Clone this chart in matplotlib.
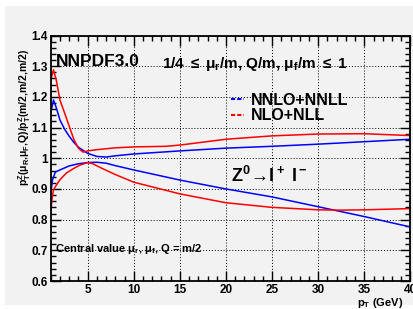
import numpy as np
import matplotlib
matplotlib.use('agg')
import matplotlib.pyplot as plt
from matplotlib.lines import Line2D
from matplotlib.patches import Rectangle
from matplotlib.ticker import MultipleLocator, FixedLocator

plt.rcParams['font.family'] = ['Liberation Sans', 'DejaVu Sans']
plt.rcParams['font.weight'] = 'bold'
plt.rcParams['mathtext.fontset'] = 'custom'
plt.rcParams['mathtext.rm'] = 'Liberation Sans:bold'
plt.rcParams['mathtext.bf'] = 'Liberation Sans:bold'
plt.rcParams['mathtext.it'] = 'Liberation Sans:bold'
plt.rcParams['mathtext.default'] = 'rm'

## data
# NNLO+NNLL band edges
x_nnlo_up = [1, 1.3, 1.6, 2, 2.5, 3, 3.5, 4, 5, 6, 7, 8, 10, 15, 20, 25, 30, 35, 40]
y_nnlo_up = [1.147, 1.19, 1.165, 1.125, 1.095, 1.072, 1.052, 1.036, 1.016, 1.006, 1.004, 1.008,
             1.014, 1.024, 1.033, 1.039, 1.046, 1.054, 1.062]
x_nnlo_lo = [1, 1.2, 1.5, 2, 3, 4, 5, 6, 7, 8, 10, 15, 20, 25, 30, 35, 40]
y_nnlo_lo = [0.886, 0.93, 0.955, 0.962, 0.975, 0.982, 0.986, 0.987, 0.984, 0.976, 0.962,
             0.929, 0.9, 0.874, 0.842, 0.81, 0.776]
# NLO+NLL band edges
x_nlo_up = [1, 1.3, 1.6, 2, 2.5, 3, 3.5, 4, 4.5, 5, 6, 8, 10, 13.5, 15, 20, 25, 30, 35, 40]
y_nlo_up = [1.255, 1.288, 1.255, 1.19, 1.148, 1.105, 1.062, 1.033, 1.02, 1.024, 1.028, 1.034,
            1.037, 1.039, 1.043, 1.062, 1.073, 1.079, 1.080, 1.074]
x_nlo_lo = [1, 1.15, 1.3, 1.6, 2, 2.7, 3.5, 4.2, 5, 5.5, 6.5, 8, 10, 15, 20, 25, 30, 32.5, 35, 40]
y_nlo_lo = [0.821, 0.87, 0.897, 0.912, 0.93, 0.952, 0.967, 0.978, 0.986, 0.983, 0.968, 0.947,
            0.922, 0.884, 0.855, 0.84, 0.832, 0.831, 0.832, 0.836]

x_ticks = [5, 10, 15, 20, 25, 30, 35, 40]
y_ticks = [0.6, 0.7, 0.8, 0.9, 1.0, 1.1, 1.2, 1.3, 1.4]
y_ticklabels = ['0.6', '0.7', '0.8', '0.9', '1', '1.1', '1.2', '1.3', '1.4']

fig = plt.figure(figsize=(4.14, 3.09), dpi=100)
fig.patch.set_facecolor('white')
# grey canvas
fig.patches.append(Rectangle((5 / 414, 1 - 305 / 309), 1.0, (305 - 6) / 309,
                             transform=fig.transFigure, facecolor='#f2f2f2',
                             edgecolor='none', zorder=-10))

ax = fig.add_axes([0.1225, 0.0906, 0.869, 0.7944])
ax.set_facecolor('#f2f2f2')

ax.plot(x_nnlo_up, y_nnlo_up, color='#0000ff', lw=1.1)
ax.plot(x_nnlo_lo, y_nnlo_lo, color='#0000ff', lw=1.1)
ax.plot(x_nlo_up, y_nlo_up, color='#ff0000', lw=1.1)
ax.plot(x_nlo_lo, y_nlo_lo, color='#ff0000', lw=1.1)

ax.set_xlim(1, 40)
ax.set_ylim(0.6, 1.4)
ax.xaxis.set_major_locator(FixedLocator(x_ticks))
ax.xaxis.set_minor_locator(MultipleLocator(1))
ax.set_yticks(y_ticks)
ax.set_yticklabels(y_ticklabels)
ax.yaxis.set_minor_locator(MultipleLocator(0.02))
ax.tick_params(which='both', direction='in', top=True, right=True, width=1.0,
               labelsize=8.5, pad=2)
ax.tick_params(which='major', length=7)
ax.tick_params(which='minor', length=3.5)
for s in ax.spines.values():
    s.set_linewidth(1.3)
ax.grid(True, which='major', color='black', ls=(0, (1, 2)), lw=0.7)

ax.set_ylabel(r'p$_T^Z$($\mu_R$,$\mu_F$,Q)/p$_T^Z$(m/2,m/2,m/2)', fontsize=7.5,
              fontweight='bold')
ax.yaxis.set_label_coords(-0.05, 0.665)
ax.set_xlabel(r'p$_T$ (GeV)', fontsize=8, fontweight='bold', ha='right')
ax.xaxis.set_label_coords(0.98, -0.062)

ax.text(0.013, 0.893, 'NNPDF3.0', transform=ax.transAxes, fontsize=12.5,
        fontweight='bold', va='center')
ax.text(0.31, 0.885, r'1/4 $\leq$ $\mu_r$/m, Q/m, $\mu_f$/m $\leq$ 1', transform=ax.transAxes,
        fontsize=11, fontweight='bold', va='center')
ax.text(0.5, 0.43, r'Z$^0\!\rightarrow\!$l$^+$ l$^-$', transform=ax.transAxes,
        fontsize=13, fontweight='bold', va='center')
ax.text(0.013, 0.13, r'Central value $\mu_r$, $\mu_f$, Q = m/2', transform=ax.transAxes,
        fontsize=8, fontweight='bold', va='center')

handles = [Line2D([], [], color='#0000ff', lw=1.5, ls=(0, (2, 1))),
           Line2D([], [], color='#ff0000', lw=1.5, ls=(0, (2, 1)))]
ax.legend(handles, ['NNLO+NNLL', 'NLO+NLL'], loc='upper left', bbox_to_anchor=(0.48, 0.8),
          frameon=False, handlelength=0.8, handletextpad=0.4, labelspacing=0.05,
          borderpad=0, prop={'size': 11.5, 'weight': 'bold'})

plt.savefig('out.png', dpi=100)
